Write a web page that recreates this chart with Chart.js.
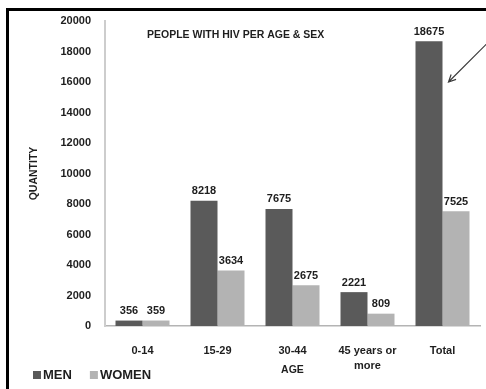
<!DOCTYPE html>
<html>
<head>
<meta charset="utf-8">
<script src="https://cdn.jsdelivr.net/npm/chart.js@4/dist/chart.umd.min.js"></script>
<style>
  html, body { margin: 0; padding: 0; background: #fff; }
  #wrap { position: relative; width: 486px; height: 389px; overflow: hidden; background: #fff; }
  #frame { position: absolute; left: 6px; top: 8px; width: 520px; height: 420px;
           border-top: 3px solid #000; border-left: 3px solid #000; pointer-events: none; }
  canvas { display: block; }
</style>
</head>
<body>
<div id="wrap">
  <canvas id="c" width="486" height="389"></canvas>
  <div id="frame"></div>
</div>
<script>
// Age groups (multi-line labels are arrays)
const ageGroups = [['0-14'], ['15-29'], ['30-44'], ['45 years or', 'more'], ['Total']];
// People with HIV, by sex
const men   = [356, 8218, 7675, 2221, 18675];
const women = [359, 3634, 2675, 809, 7525];
// Quantity axis
const yMin = 0;
const yMax = 20000;
const yStep = 2000;

const FONT = '"Liberation Sans", Arial, sans-serif';
const MEN_COLOR = '#5a5a5a';
const WOMEN_COLOR = '#b3b3b3';
const TEXT_COLOR = '#1e1e1e';

// Value labels above bars, chart heading, arrow callout and the legend
const decorations = {
  id: 'decorations',
  afterDatasetsDraw(chart) {
    const ctx = chart.ctx;
    const area = chart.chartArea;
    const yScale = chart.scales.y;
    ctx.save();

    // values above each bar
    ctx.fillStyle = TEXT_COLOR;
    ctx.font = 'bold 11px ' + FONT;
    ctx.textAlign = 'center';
    ctx.textBaseline = 'bottom';
    chart.data.datasets.forEach((ds, di) => {
      chart.getDatasetMeta(di).data.forEach((bar, i) => {
        ctx.fillText(String(ds.data[i]), bar.x, bar.y - 4);
      });
    });

    // heading inside the plot
    ctx.font = 'bold 10.5px ' + FONT;
    ctx.textAlign = 'left';
    ctx.textBaseline = 'middle';
    ctx.fillText('PEOPLE WITH HIV PER AGE & SEX', area.left + 42, area.top + 14);

    // arrow pointing at the "Total" men bar
    const totalBar = chart.getDatasetMeta(0).data[men.length - 1];
    const tipX = totalBar.x + totalBar.width / 2 + 6;
    const tipY = yScale.getPixelForValue(16000);
    const startX = tipX + 40, startY = tipY - 40;
    ctx.strokeStyle = '#3c3c3c';
    ctx.lineWidth = 1.2;
    ctx.beginPath();
    ctx.moveTo(startX, startY);
    ctx.lineTo(tipX, tipY);
    const ang = Math.atan2(tipY - startY, tipX - startX);
    const head = 8, spread = 0.45;
    ctx.moveTo(tipX - head * Math.cos(ang - spread), tipY - head * Math.sin(ang - spread));
    ctx.lineTo(tipX, tipY);
    ctx.lineTo(tipX - head * Math.cos(ang + spread), tipY - head * Math.sin(ang + spread));
    ctx.stroke();

    // legend, bottom left
    ctx.font = 'bold 13px ' + FONT;
    ctx.textBaseline = 'middle';
    let lx = 33;
    const ly = 375;
    chart.data.datasets.forEach(ds => {
      ctx.fillStyle = ds.backgroundColor;
      ctx.fillRect(lx, ly - 4, 8, 8);
      ctx.fillStyle = TEXT_COLOR;
      ctx.fillText(ds.label, lx + 10, ly);
      lx += 10 + ctx.measureText(ds.label).width + 18;
    });

    ctx.restore();
  }
};

new Chart(document.getElementById('c'), {
  type: 'bar',
  data: {
    labels: ageGroups,
    datasets: [
      { label: 'MEN',   data: men,   backgroundColor: MEN_COLOR,   borderWidth: 0 },
      { label: 'WOMEN', data: women, backgroundColor: WOMEN_COLOR, borderWidth: 0 }
    ]
  },
  options: {
    responsive: false,
    devicePixelRatio: 1,
    animation: false,
    categoryPercentage: 0.72,
    barPercentage: 1.0,
    layout: { padding: { top: 21, right: 6, bottom: 0, left: 0 } },
    plugins: {
      legend: { display: false },
      title: { display: false },
      tooltip: { enabled: false }
    },
    scales: {
      x: {
        grid: { display: false },
        border: { display: true, color: '#b4b4b4', width: 1.5 },
        ticks: {
          color: TEXT_COLOR,
          font: { family: FONT, size: 11, weight: 'bold', lineHeight: 1.35 },
          padding: 10,
          maxRotation: 0,
          autoSkip: false
        },
        title: {
          display: true,
          text: 'AGE',
          color: TEXT_COLOR,
          font: { family: FONT, size: 10.5, weight: 'bold' },
          padding: { top: 0, bottom: 13 }
        },
        afterFit(scale) { scale.height = 63; }
      },
      y: {
        min: yMin,
        max: yMax,
        grid: { display: false },
        border: { display: true, color: '#cdcdcd', width: 2 },
        ticks: {
          stepSize: yStep,
          color: TEXT_COLOR,
          font: { family: FONT, size: 11, weight: 'bold' },
          padding: 6,
          callback: (value) => String(value)
        },
        title: {
          display: true,
          text: 'QUANTITY',
          color: TEXT_COLOR,
          font: { family: FONT, size: 10.5, weight: 'bold' },
          padding: { top: 28, bottom: 0 }
        },
        afterFit(scale) { scale.width = 105; }
      }
    }
  },
  plugins: [decorations]
});
</script>
</body>
</html>
